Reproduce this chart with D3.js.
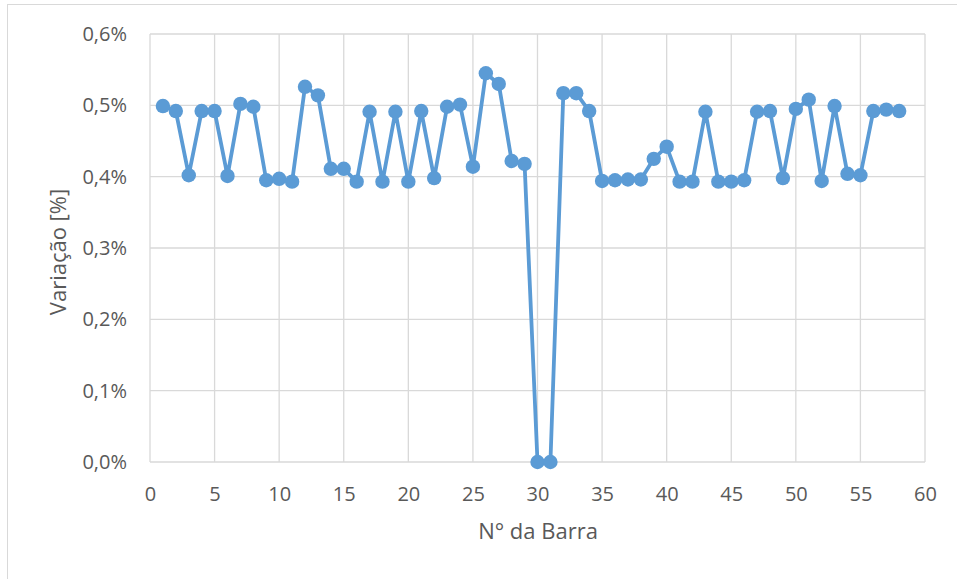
<!DOCTYPE html>
<html lang="pt">
<head>
<meta charset="UTF-8">
<title>Variação por barra</title>
<style>
  body { margin: 0; background: #fff; }
  text { font-family: "Open Sans", "Noto Sans", sans-serif; fill: #595959; }
</style>
</head>
<body>
<script src="https://cdnjs.cloudflare.com/ajax/libs/d3/7.8.5/d3.min.js"></script>
<script>
// barras 1..58 e variação em %
var barras = d3.range(1, 59);
var variacao = [
  0.499, 0.492, 0.402, 0.492, 0.492, 0.401, 0.502, 0.498, 0.395, 0.397,
  0.393, 0.526, 0.514, 0.411, 0.411, 0.393, 0.491, 0.393, 0.491, 0.393,
  0.492, 0.398, 0.498, 0.501, 0.414, 0.545, 0.530, 0.422, 0.418, 0.000,
  0.000, 0.517, 0.517, 0.492, 0.394, 0.395, 0.396, 0.396, 0.425, 0.442,
  0.393, 0.393, 0.491, 0.393, 0.393, 0.395, 0.491, 0.492, 0.398, 0.495,
  0.508, 0.394, 0.499, 0.404, 0.402, 0.492, 0.494, 0.492
];
var xTicks = d3.range(0, 61, 5);
var yTicks = [0, 0.1, 0.2, 0.3, 0.4, 0.5, 0.6];

var W = 957, H = 579;
var plot = { left: 150, right: 925, top: 34, bottom: 462 };

var svg = d3.select('body').append('svg')
  .attr('width', W).attr('height', H);

// moldura do gráfico
svg.append('rect')
  .attr('x', 7.5).attr('y', 4.5)
  .attr('width', W + 10).attr('height', H + 10)
  .attr('fill', 'none').attr('stroke', '#d9d9d9');

var x = d3.scaleLinear().domain([0, 60]).range([plot.left, plot.right]);
var y = d3.scaleLinear().domain([0, 0.6]).range([plot.bottom, plot.top]);

// grade
svg.append('g').selectAll('line').data(xTicks).enter().append('line')
  .attr('x1', function (d) { return x(d); }).attr('x2', function (d) { return x(d); })
  .attr('y1', plot.top).attr('y2', plot.bottom)
  .attr('stroke', '#d9d9d9').attr('stroke-width', 1.3);
svg.append('g').selectAll('line').data(yTicks).enter().append('line')
  .attr('x1', plot.left).attr('x2', plot.right)
  .attr('y1', function (d) { return y(d); }).attr('y2', function (d) { return y(d); })
  .attr('stroke', '#d9d9d9').attr('stroke-width', 1.3);

var fmt = function (d) { return d.toFixed(1).replace('.', ',') + '%'; };

// eixos (só os rótulos)
var xAxis = svg.append('g')
  .attr('transform', 'translate(0,' + (plot.bottom + 23) + ')')
  .call(d3.axisBottom(x).tickValues(xTicks).tickSize(0).tickPadding(0));
var yAxis = svg.append('g')
  .attr('transform', 'translate(' + (plot.left - 23) + ',0)')
  .call(d3.axisLeft(y).tickValues(yTicks).tickFormat(fmt).tickSize(0).tickPadding(0));
[xAxis, yAxis].forEach(function (a) {
  a.select('.domain').remove();
  a.selectAll('text').style('font-size', '20px').attr('fill', '#595959')
    .style('font-family', '"Open Sans", "Noto Sans", sans-serif');
});
xAxis.selectAll('text').attr('dy', null).attr('y', 16);

// linha + marcadores
var pts = barras.map(function (b, i) { return [b, variacao[i]]; });
var line = d3.line()
  .x(function (d) { return x(d[0]); })
  .y(function (d) { return y(d[1]); });

svg.append('path').datum(pts)
  .attr('d', line)
  .attr('fill', 'none')
  .attr('stroke', '#5b9bd5')
  .attr('stroke-width', 3.8)
  .attr('stroke-linejoin', 'round');

svg.append('g').selectAll('circle').data(pts).enter().append('circle')
  .attr('cx', function (d) { return x(d[0]); })
  .attr('cy', function (d) { return y(d[1]); })
  .attr('r', 7.2)
  .attr('fill', '#5b9bd5');

// títulos dos eixos
svg.append('text')
  .attr('x', 538).attr('y', 539)
  .attr('text-anchor', 'middle')
  .style('font-size', '22px')
  .text('N° da Barra');

svg.append('text')
  .attr('transform', 'translate(66,252) rotate(-90)')
  .attr('text-anchor', 'middle')
  .style('font-size', '22px')
  .text('Variação [%]');
</script>
</body>
</html>
